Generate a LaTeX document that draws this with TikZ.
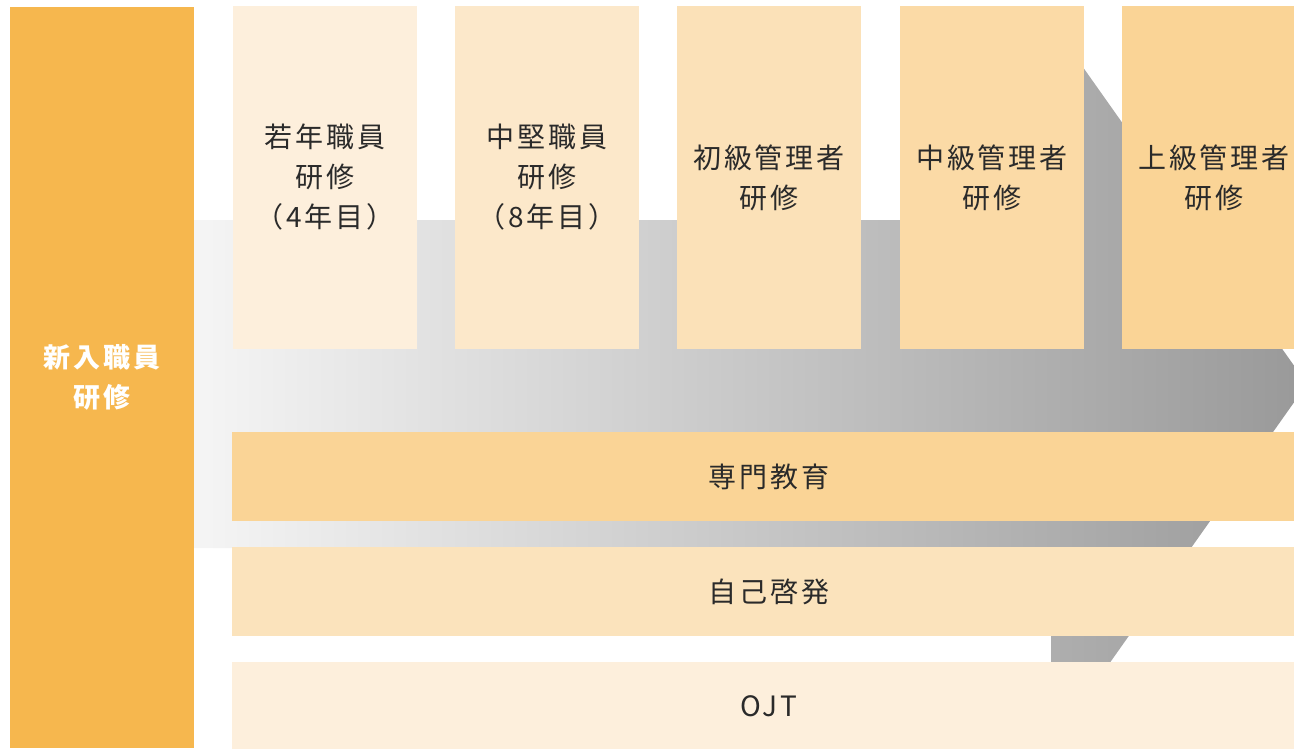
\documentclass[tikz,border=0pt]{standalone}
\usepackage{fontspec}
\setmainfont{Noto Sans CJK JP}
\newfontfamily\jpfont[LetterSpace=10]{Noto Sans CJK JP}
\definecolor{colmain}{HTML}{F6B74E}
\definecolor{cA}{HTML}{FDEFDC}
\definecolor{cB}{HTML}{FCE8CA}
\definecolor{cC}{HTML}{FBE1B8}
\definecolor{cD}{HTML}{FBDAA6}
\definecolor{cE}{HTML}{FAD496}
\definecolor{cSelf}{HTML}{FBE3BC}
\definecolor{txt}{HTML}{2A2A2A}
\definecolor{arrL}{HTML}{F5F5F5}
\definecolor{arrR}{HTML}{999999}
\begin{document}
\begin{tikzpicture}[x=1pt,y=-1pt,
  base/.style={inner sep=0pt, outer sep=0pt, anchor=north west, align=center, text=txt},
  topbox/.style={base, minimum width=184pt, minimum height=343pt, fill=#1,
    font=\jpfont\fontsize{28}{40}\selectfont},
  rowbox/.style={base, minimum width=1074pt, minimum height=89pt, fill=#1,
    font=\jpfont\fontsize{28}{40}\selectfont},
  leftbox/.style={base, minimum width=184pt, minimum height=741pt, fill=colmain,
    text=white, font=\jpfont\bfseries\fontsize{27}{40}\selectfont}
]
\useasboundingbox (0,0) rectangle (1294,749);
\clip (0,0) rectangle (1294,749);
% gray gradient arrow
\shade[left color=arrL, right color=arrR]
  (194,220) -- (1051,220) -- (1051,22) -- (1307,384) -- (1051,746)
  -- (1051,548) -- (194,548) -- cycle;
% left column
\node[leftbox] (newstaff) at (10,7) {新入職員\\研修};
% top boxes
\node[topbox=cA] (young) at (233,6) {若年職員\\研修\\（4年目）};
\node[topbox=cB] (mid) at (455,6) {中堅職員\\研修\\（8年目）};
\node[topbox=cC] (junior) at (677,6) {初級管理者\\研修};
\node[topbox=cD] (middle) at (900,6) {中級管理者\\研修};
\node[topbox=cE] (senior) at (1122,6) {上級管理者\\研修};
% rows
\node[rowbox=cE] (special) at (232,432) {専門教育};
\node[rowbox=cSelf] (self) at (232,547) {自己啓発};
\node[rowbox=cA] (ojt) at (232,662) {OJT};
\end{tikzpicture}
\end{document}
